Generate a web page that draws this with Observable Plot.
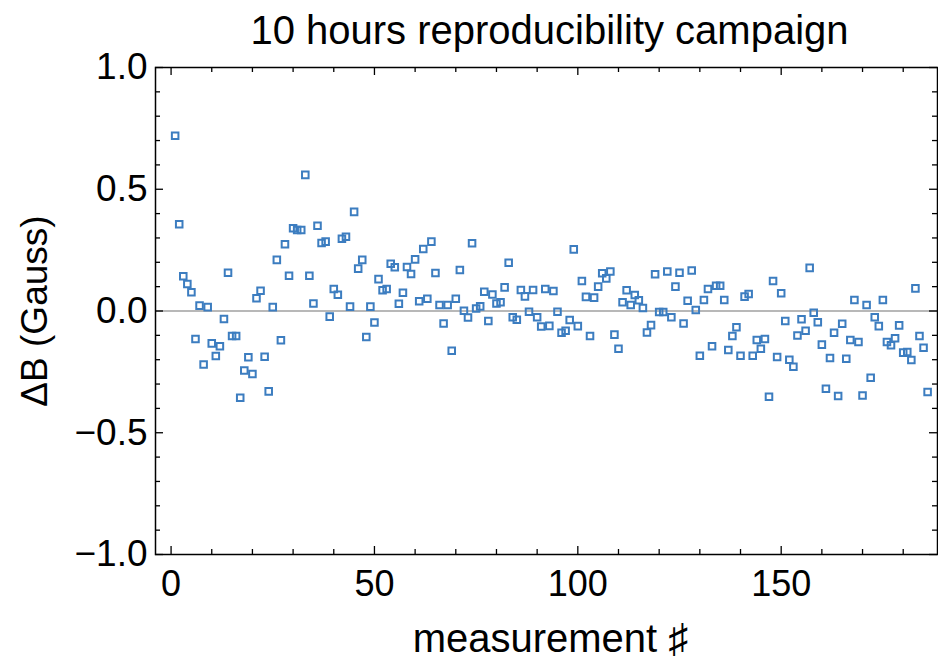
<!DOCTYPE html>
<html><head><meta charset="utf-8">
<script src="https://cdn.jsdelivr.net/npm/d3@7"></script>
<script src="https://cdn.jsdelivr.net/npm/@observablehq/plot@0.6"></script>
<style>body{margin:0;background:#fff}</style>
</head><body><div id="chart"></div>
<script>
const title = "10 hours reproducibility campaign";
const xLabel = "measurement \u266F";
const yLabel = "\u0394B (Gauss)";
const deltaB = [
  0.72, 0.356, 0.143, 0.111, 0.077, -0.115, 0.022, -0.22, 0.016, -0.133,
  -0.185, -0.145, -0.033, 0.157, -0.103, -0.103, -0.356, -0.244, -0.19, -0.259,
  0.052, 0.083, -0.188, -0.33, 0.016, 0.21, -0.12, 0.274, 0.145, 0.34,
  0.333, 0.333, 0.559, 0.145, 0.031, 0.35, 0.279, 0.285, -0.023, 0.09,
  0.067, 0.297, 0.305, 0.018, 0.407, 0.174, 0.21, -0.107, 0.018, -0.047,
  0.131, 0.085, 0.09, 0.194, 0.18, 0.03, 0.075, 0.181, 0.152, 0.212,
  0.04, 0.255, 0.05, 0.285, 0.156, 0.025, -0.051, 0.025, -0.163, 0.05,
  0.168, 0.001, -0.027, 0.278, 0.01, 0.019, 0.079, -0.041, 0.068, 0.031,
  0.036, 0.097, 0.198, -0.026, -0.036, 0.086, 0.06, -0.003, 0.086, -0.026,
  -0.064, 0.09, -0.061, 0.082, -0.003, -0.089, -0.081, -0.037, 0.253, -0.062,
  0.123, 0.058, -0.103, 0.055, 0.1, 0.155, 0.134, 0.162, -0.097, -0.155,
  0.036, 0.085, 0.025, 0.066, 0.044, 0.012, -0.088, -0.058, 0.151, -0.004,
  -0.004, 0.162, -0.026, 0.1, 0.157, -0.051, 0.042, 0.166, 0.004, -0.184,
  0.045, 0.09, -0.145, 0.104, 0.104, 0.045, -0.16, -0.103, -0.067, -0.184,
  0.059, 0.07, -0.184, -0.119, -0.155, -0.115, -0.352, 0.123, -0.189, 0.073,
  -0.041, -0.2, -0.229, -0.101, -0.034, -0.081, 0.177, -0.007, -0.046, -0.138,
  -0.319, -0.193, -0.089, -0.349, -0.052, -0.196, -0.119, 0.045, -0.127, -0.347,
  0.025, -0.274, -0.026, -0.062, 0.045, -0.127, -0.141, -0.112, -0.059, -0.171,
  -0.168, -0.201, 0.093, -0.103, -0.151, -0.333
];
const measurement = deltaB.map((_, i) => i + 1);
const xMajor = [0, 50, 100, 150];
const xMinor = [10, 20, 30, 40, 60, 70, 80, 90, 110, 120, 130, 140, 160, 170, 180];
const yMajor = [-1, -0.5, 0, 0.5, 1];
const yMinor = [-0.9, -0.8, -0.7, -0.6, -0.4, -0.3, -0.2, -0.1, 0.1, 0.2, 0.3, 0.4, 0.6, 0.7, 0.8, 0.9];

const data = measurement.map((m, i) => ({m, v: deltaB[i]}));

const W = 938, H = 661, mL = 155, mR = 1, mT = 67, mB = 107;
const fw = W - mL - mR, fh = H - mT - mB;
const major = 8, minor = 5;
const tickStyle = {stroke: "black", strokeWidth: 1.3};

const chart = Plot.plot({
  width: W, height: H,
  marginLeft: mL, marginRight: mR, marginTop: mT, marginBottom: mB,
  style: {fontFamily: "'Liberation Sans', Arial, sans-serif", background: "white", color: "black"},
  x: {domain: [-3.83, 188.43]},
  y: {domain: [-1, 1]},
  marks: [
    Plot.ruleY([0], {stroke: "#a0a0a0", strokeWidth: 1.3}),
    Plot.dot(data, {x: "m", y: "v", symbol: "square", r: 3.7, stroke: "#3c7dc0", strokeWidth: 2, fill: "none"}),
    // bottom ticks
    Plot.tickX(xMajor, {x: d => d, insetTop: fh - major, ...tickStyle}),
    Plot.tickX(xMinor, {x: d => d, insetTop: fh - minor, ...tickStyle}),
    // top ticks
    Plot.tickX(xMajor, {x: d => d, insetBottom: fh - major, ...tickStyle}),
    Plot.tickX(xMinor, {x: d => d, insetBottom: fh - minor, ...tickStyle}),
    // left ticks
    Plot.tickY(yMajor, {y: d => d, insetRight: fw - major, ...tickStyle}),
    Plot.tickY(yMinor, {y: d => d, insetRight: fw - minor, ...tickStyle}),
    // right ticks
    Plot.tickY(yMajor, {y: d => d, insetLeft: fw - major, ...tickStyle}),
    Plot.tickY(yMinor, {y: d => d, insetLeft: fw - minor, ...tickStyle}),
    Plot.axisX({ticks: xMajor, tickSize: 0, tickPadding: 16, fontSize: 36, tickFormat: d => String(d),
      label: null}),
    Plot.axisY({ticks: yMajor, tickSize: 0, tickPadding: 8, fontSize: 36, tickFormat: d3.format(".1f"),
      label: yLabel, labelAnchor: "center", labelOffset: 135, labelArrow: "none", fontSize: 37}),
    Plot.text([xLabel], {frameAnchor: "bottom", dy: 97, fontSize: 40, fill: "black", dx: 4}),
    Plot.frame({stroke: "black", strokeWidth: 1.5}),
    Plot.text([title], {frameAnchor: "top", dy: -52, fontSize: 40, fill: "black", dx: 3})
  ]
});
document.getElementById("chart").appendChild(chart);
</script>
</body></html>
